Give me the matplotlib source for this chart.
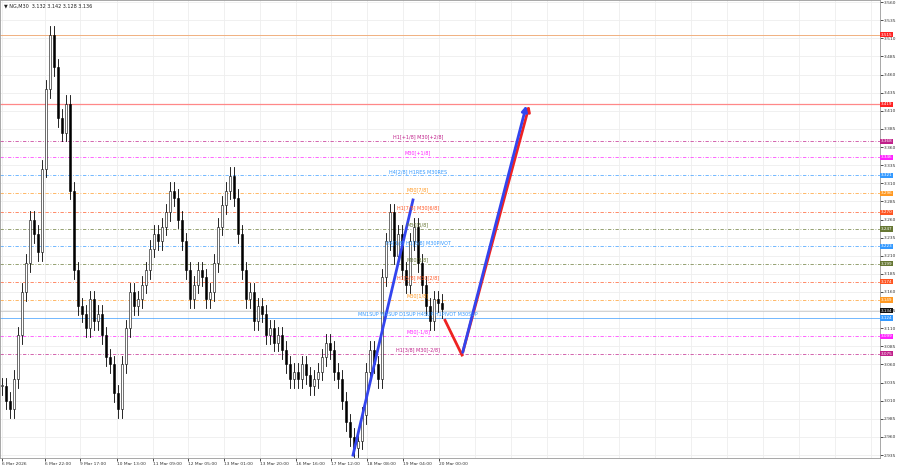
import matplotlib
matplotlib.use("Agg")
import matplotlib.pyplot as plt
import numpy as np

closes = [3.030,3.010,2.998,3.040,3.100,3.160,3.200,3.260,3.240,3.215,
          3.330,3.440,3.515,3.470,3.400,3.380,3.420,3.300,3.190,3.140,
          3.130,3.110,3.150,3.120,3.130,3.100,3.070,3.060,3.020,2.998,
          3.060,3.110,3.160,3.140,3.150,3.170,3.190,3.220,3.240,3.230,
          3.250,3.270,3.300,3.290,3.260,3.230,3.190,3.150,3.170,3.190,
          3.180,3.150,3.160,3.200,3.250,3.280,3.300,3.320,3.290,3.240,
          3.190,3.150,3.160,3.120,3.140,3.130,3.100,3.110,3.090,3.100,
          3.080,3.060,3.040,3.050,3.040,3.060,3.045,3.030,3.040,3.050,
          3.070,3.090,3.080,3.050,3.040,3.010,2.980,2.960,2.945,2.955,
          2.990,3.050,3.080,3.060,3.040,3.180,3.230,3.270,3.210,3.240,
          3.190,3.170,3.230,3.250,3.200,3.170,3.140,3.120,3.150,3.145,3.136]

levels = [3.368,3.346,3.321,3.296,3.270,3.247,3.223,3.199,3.174,3.149,3.124,3.099,3.075]
level_labels = ["H1[+1/8] M30[+2/8]","M30[+1/8]","H4[2/8] H1RES M30RES","M30[7/8]",
                "H1[7/8] M30[6/8]","M30[5/8]","H4[1/8] H1[6/8] M30PIVOT","M30[3/8]",
                "H1[5/8] M30[2/8]","M30[1/8]","MN1SUP W1SUP D1SUP H4SUP H1PIVOT M30SUP",
                "M30[-1/8]","H1[3/8] M30[-2/8]"]
level_colors = ["#c0208a","#ff20ff","#3399ff","#ff9922","#ff5522","#667733","#3399ff",
                "#667733","#ff5522","#ff9922","#3399ff","#ff20ff","#c0208a"]
date_labels = ["6 Mar 2026","6 Mar 22:00","9 Mar 17:00","10 Mar 13:00","11 Mar 09:00",
               "12 Mar 05:00","13 Mar 01:00","13 Mar 20:00","16 Mar 16:00","17 Mar 12:00",
               "18 Mar 08:00","19 Mar 04:00","20 Mar 00:00"]
date_pos = [2,45,80,117,153,188,224,260,296,331,367,403,439]
blue1_x = [353,413]; blue1_y = [2.935,3.287]
red_x = [445,462,530]; red_y = [3.121,3.073,3.421]
blue2_x = [462,527]; blue2_y = [3.073,3.421]

fig = plt.figure(figsize=(9,4.74), dpi=100)
ax = fig.add_axes([0, 16/474, 880/900, 458/474])
ax.set_xlim(0,880); ax.set_ylim(2.931,3.5628)
ticks = np.arange(2.935,3.561,0.025)
for t in ticks: ax.axhline(t,color="#eeeeee",lw=0.6,zorder=0)
for d in date_pos: ax.axvline(d,color="#eeeeee",lw=0.6,zorder=0)
for d in range(475,880,36): ax.axvline(d,color="#eeeeee",lw=0.6,zorder=0)

prev = closes[0]
for i,c in enumerate(closes):
    x = 4*i+2
    o = prev
    hi = max(o,c)+0.012; lo = min(o,c)-0.012
    ax.plot([x,x],[lo,hi],color="black",lw=0.6,zorder=3)
    ax.add_patch(plt.Rectangle((x-1.2,min(o,c)),2.4,max(abs(c-o),0.002),
                 facecolor="white" if c>=o else "black",edgecolor="black",lw=0.4,zorder=4))
    prev = c

ax.axhline(3.515,color="#f0b080",lw=0.7)
ax.axhline(3.419,color="#ff8888",lw=0.9)
ax.axhline(3.134,color="#cccccc",lw=0.6)
for lv,lab,col in zip(levels,level_labels,level_colors):
    ls = "-" if lab.startswith("MN1") else (0,(4,2,1,2))
    ax.axhline(lv,color=col,lw=0.6,ls=ls,alpha=0.8)
    ax.text(418,lv+0.002,lab,color=col,fontsize=3.5,ha="center",va="bottom",zorder=6)

ax.plot(blue1_x,blue1_y,color="#3344ee",lw=2,zorder=5)
ax.plot(red_x[:2],red_y[:2],color="#ee2222",lw=2,zorder=5)
ax.annotate("",xy=(red_x[2],red_y[2]),xytext=(red_x[1],red_y[1]),
            arrowprops=dict(arrowstyle="-|>",color="#ee2222",lw=2,mutation_scale=8),zorder=5)
ax.annotate("",xy=(blue2_x[1],blue2_y[1]),xytext=(blue2_x[0],blue2_y[0]),
            arrowprops=dict(arrowstyle="-|>",color="#3344ee",lw=2,mutation_scale=8),zorder=5)

ax.yaxis.tick_right()
ax.set_yticks(ticks)
ax.set_yticklabels([f"{t:.3f}" for t in ticks],fontsize=3.2,color="#333333")
ax.set_xticks(date_pos)
ax.set_xticklabels(date_labels,fontsize=3.2,color="#333333",ha="left")
ax.tick_params(length=2,width=0.5,pad=1)
for s in ax.spines.values(): s.set_color("#999999"); s.set_linewidth(0.6)

box_levels = [3.515,3.419]+levels[:10]+[3.134]+levels[10:]
box_cols = ["#ff2222","#ff2222"]+level_colors[:10]+["#111111"]+level_colors[10:]
for lv,col in zip(box_levels,box_cols):
    ax.text(881,lv,f"{lv:.3f}",fontsize=3.0,color="white",va="center",ha="left",
            bbox=dict(boxstyle="square,pad=0.15",fc=col,ec="none"),clip_on=False,zorder=7)
ax.text(4,3.555,"▼ NG,M30  3.132 3.142 3.128 3.136",fontsize=3.5,color="#222222",va="center")
fig.savefig("out.png",dpi=100)
